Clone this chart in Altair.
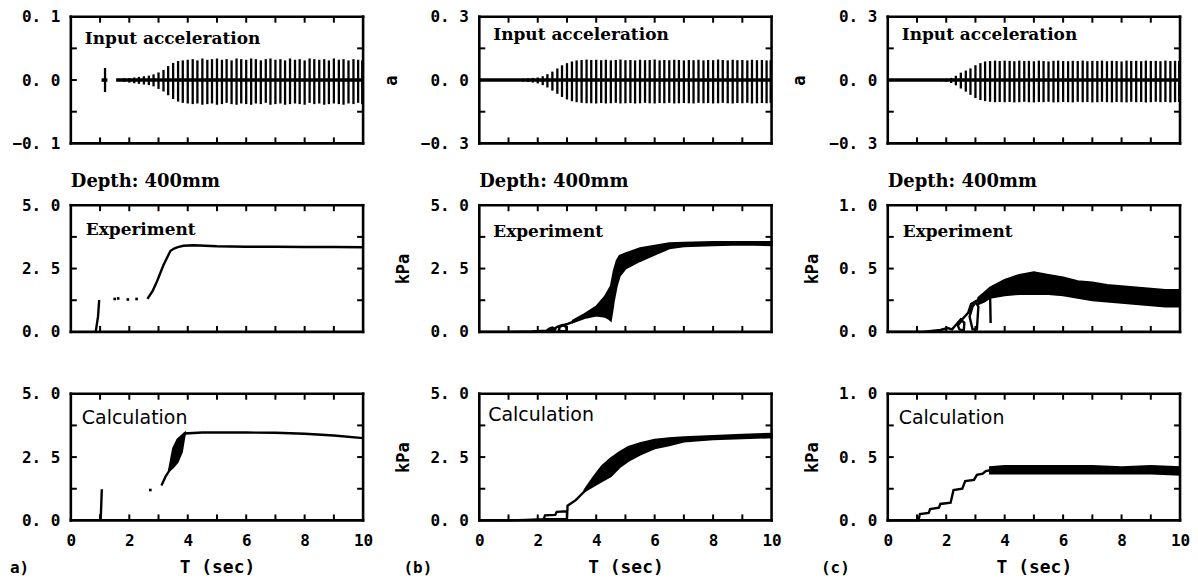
import altair as alt
import pandas as pd

W, H = 293, 127
MONO = "DejaVu Sans Mono"
SERIF = "DejaVu Serif"
SANS = "DejaVu Sans"

T_LABELS = [0, 2, 4, 6, 8, 10]
X_TICKS = [1, 2, 3, 4, 5, 6, 7, 8, 9]

# ---------------- input acceleration (spike peaks per cycle) ----------------
spike_t = [1.0, 1.17, 1.33, 1.5, 1.67, 1.83, 2.0, 2.17, 2.33, 2.5, 2.67, 2.83,
           3.0, 3.17, 3.33, 3.5, 3.67, 3.83, 4.0, 4.17, 4.33, 4.5, 4.67, 4.83,
           5.0, 5.17, 5.33, 5.5, 5.67, 5.83, 6.0, 6.17, 6.33, 6.5, 6.67, 6.83,
           7.0, 7.17, 7.33, 7.5, 7.67, 7.83, 8.0, 8.17, 8.33, 8.5, 8.67, 8.83,
           9.0, 9.17, 9.33, 9.5, 9.67, 9.83, 9.97]

acc_a_hi = [0.0, 0.019, 0.0, 0.0, 0.002, 0.003, 0.003, 0.004, 0.005, 0.006, 0.007, 0.009, 0.012, 0.016, 0.022, 0.027, 0.030, 0.031, 0.032,
            0.033, 0.031, 0.034, 0.032, 0.033, 0.034, 0.032, 0.033, 0.031, 0.034, 0.033, 0.032, 0.034, 0.033, 0.031, 0.033, 0.034, 0.032,
            0.033, 0.031, 0.034, 0.032, 0.033, 0.031, 0.034, 0.033, 0.032, 0.033, 0.031, 0.034, 0.032, 0.033, 0.031, 0.033, 0.032, 0.031]
acc_a_lo = [0.0, -0.019, 0.0, 0.0, -0.002, -0.003, -0.004, -0.005, -0.006, -0.007, -0.008, -0.010, -0.014, -0.018, -0.024, -0.030, -0.034, -0.036, -0.037,
            -0.038, -0.037, -0.039, -0.038, -0.037, -0.039, -0.038, -0.036, -0.038, -0.039, -0.037, -0.038, -0.039, -0.037, -0.038, -0.036, -0.039, -0.038,
            -0.037, -0.039, -0.038, -0.037, -0.038, -0.039, -0.036, -0.038, -0.037, -0.039, -0.038, -0.037, -0.038, -0.039, -0.037, -0.038, -0.036, -0.038]
acc_b_hi = [0.003, 0.004, 0.005, 0.006, 0.008, 0.010, 0.012, 0.018, 0.028, 0.040, 0.055, 0.070, 0.080, 0.088, 0.093, 0.095, 0.097, 0.095, 0.096,
            0.094, 0.096, 0.093, 0.095, 0.097, 0.094, 0.095, 0.093, 0.096, 0.094, 0.095, 0.097, 0.093, 0.095, 0.094, 0.096, 0.095, 0.093,
            0.095, 0.094, 0.096, 0.093, 0.095, 0.094, 0.097, 0.095, 0.093, 0.096, 0.094, 0.095, 0.093, 0.096, 0.094, 0.095, 0.093, 0.094]
acc_b_lo = [-0.003, -0.004, -0.005, -0.007, -0.009, -0.012, -0.016, -0.024, -0.035, -0.050, -0.065, -0.080, -0.092, -0.100, -0.105, -0.108, -0.110, -0.110, -0.111,
            -0.109, -0.111, -0.110, -0.108, -0.111, -0.110, -0.109, -0.111, -0.110, -0.108, -0.110, -0.111, -0.109, -0.110, -0.108, -0.111, -0.110, -0.109,
            -0.110, -0.111, -0.108, -0.110, -0.109, -0.111, -0.110, -0.108, -0.110, -0.111, -0.109, -0.110, -0.108, -0.111, -0.110, -0.109, -0.110, -0.108]
acc_c_hi = [0.001, 0.001, 0.002, 0.002, 0.003, 0.004, 0.006, 0.010, 0.020, 0.035, 0.045, 0.055, 0.070, 0.080, 0.088, 0.090, 0.092, 0.090, 0.092,
            0.091, 0.089, 0.092, 0.090, 0.091, 0.089, 0.092, 0.090, 0.088, 0.091, 0.092, 0.090, 0.089, 0.091, 0.090, 0.092, 0.089, 0.091,
            0.090, 0.092, 0.089, 0.091, 0.090, 0.088, 0.092, 0.090, 0.091, 0.089, 0.092, 0.090, 0.091, 0.089, 0.092, 0.090, 0.091, 0.090]
acc_c_lo = [-0.001, -0.001, -0.002, -0.003, -0.004, -0.006, -0.008, -0.014, -0.025, -0.040, -0.055, -0.070, -0.085, -0.095, -0.100, -0.103, -0.105, -0.104, -0.105,
            -0.104, -0.106, -0.105, -0.103, -0.105, -0.106, -0.104, -0.105, -0.103, -0.106, -0.105, -0.104, -0.105, -0.106, -0.103, -0.105, -0.104, -0.106,
            -0.105, -0.103, -0.105, -0.106, -0.104, -0.105, -0.106, -0.103, -0.105, -0.104, -0.106, -0.105, -0.103, -0.105, -0.104, -0.106, -0.105, -0.104]

# centre line segments of the acceleration traces (start, end)
acc_a_c0, acc_a_c1 = [1.05, 1.55], [1.25, 10.0]
acc_b_c0, acc_b_c1 = [0.0], [10.0]
acc_c_c0, acc_c_c1 = [0.0], [10.0]

# ---------------- pore pressure, (a) ----------------
a_exp_t = [0.85, 0.93, 0.97, 2.62, 2.8, 2.95, 3.17, 3.3, 3.41, 3.55, 3.66, 3.85, 4.2, 5.0, 6.0, 7.0, 8.0, 9.0, 10.0]
a_exp_v = [0.0, 0.6, 1.26, 1.3, 1.62, 2.0, 2.64, 2.95, 3.2, 3.3, 3.35, 3.4, 3.42, 3.38, 3.36, 3.36, 3.35, 3.35, 3.34]
a_exp_seg = [0, 0, 0, 1, 1, 1, 1, 1, 1, 1, 1, 1, 1, 1, 1, 1, 1, 1, 1]
a_exp_dot_t = [1.5, 1.62, 1.95, 2.25]
a_exp_dot_v = [1.3, 1.32, 1.28, 1.3]

a_cal_t = [1.02, 1.04, 1.06, 3.1, 3.25, 3.36, 3.9, 4.5, 5.0, 6.0, 7.0, 8.0, 9.0, 10.0]
a_cal_v = [0.0, 0.6, 1.23, 1.38, 1.75, 1.95, 3.43, 3.47, 3.47, 3.47, 3.46, 3.42, 3.35, 3.25]
a_cal_seg = [0, 0, 0, 1, 1, 1, 1, 1, 1, 1, 1, 1, 1, 1]
a_cal_band_t = [3.36, 3.5, 3.65, 3.8, 3.9]
a_cal_band_lo = [1.95, 2.1, 2.3, 2.7, 3.4]
a_cal_band_hi = [2.0, 2.85, 3.2, 3.35, 3.45]
a_cal_dot_t = [2.72]
a_cal_dot_v = [1.2]

# ---------------- pore pressure, (b) ----------------
b_exp_t = [0, 1.0, 1.8, 2.3, 2.4, 2.5, 2.6, 2.58, 2.45, 2.38, 2.6, 2.7, 2.85, 2.98, 2.98, 2.85, 2.72, 2.75, 2.9, 3.05, 3.2]
b_exp_v = [0, 0, 0.02, 0.05, 0.13, 0.17, 0.12, 0.03, 0.02, 0.06, 0.15, 0.22, 0.27, 0.2, 0.04, 0.02, 0.05, 0.2, 0.28, 0.33, 0.4]
b_exp_band_t = [3.2, 3.6, 4.0, 4.3, 4.45, 4.5, 4.55, 4.6, 4.7, 4.8, 5.0, 5.5, 6.0, 6.5, 7.0, 8.0, 9.0, 10.0]
b_exp_band_hi = [0.45, 0.7, 1.0, 1.4, 1.7, 1.8, 2.1, 2.4, 2.8, 3.0, 3.1, 3.3, 3.4, 3.5, 3.52, 3.55, 3.55, 3.55]
b_exp_band_lo = [0.38, 0.55, 0.65, 0.6, 0.5, 0.45, 0.8, 1.2, 1.8, 2.2, 2.5, 2.8, 3.05, 3.3, 3.38, 3.42, 3.45, 3.42]

b_cal_t = [0, 1.0, 1.6, 2.2, 2.25, 2.6, 2.65, 3.0, 3.0, 2.25, 3.0, 3.02, 3.3, 3.6, 3.75]
b_cal_v = [0, 0, 0.02, 0.05, 0.2, 0.22, 0.34, 0.36, 0.05, 0.05, 0.05, 0.58, 0.8, 1.15, 1.4]
b_cal_band_t = [3.6, 3.9, 4.2, 4.5, 4.8, 5.1, 5.5, 6.0, 6.5, 7.0, 8.0, 9.0, 10.0]
b_cal_band_hi = [1.2, 1.7, 2.15, 2.45, 2.7, 2.9, 3.05, 3.18, 3.24, 3.28, 3.33, 3.38, 3.42]
b_cal_band_lo = [1.15, 1.35, 1.55, 1.75, 2.1, 2.35, 2.6, 2.85, 2.97, 3.11, 3.2, 3.24, 3.28]

# ---------------- pore pressure, (c) ----------------
c_exp_t = [0, 1.2, 1.8, 2.05, 2.2, 2.35, 2.5, 2.62, 2.6, 2.45, 2.4, 2.55, 2.75, 2.85, 3.0, 3.1, 3.05, 2.9, 2.8, 2.9, 3.1, 3.2, 3.5, 3.52]
c_exp_v = [0, 0, 0.015, 0.03, 0.02, 0.06, 0.1, 0.07, 0.01, 0.02, 0.05, 0.1, 0.15, 0.22, 0.24, 0.2, 0.02, 0.02, 0.12, 0.2, 0.26, 0.28, 0.3, 0.07]
c_exp_seg = [0] * 22 + [1, 1]
c_exp_band_t = [3.1, 3.3, 3.5, 4.0, 4.5, 5.0, 5.5, 6.0, 6.5, 7.0, 7.5, 8.0, 8.5, 9.0, 9.5, 10.0]
c_exp_band_hi = [0.27, 0.31, 0.35, 0.41, 0.45, 0.47, 0.45, 0.43, 0.4, 0.39, 0.37, 0.36, 0.35, 0.34, 0.33, 0.33]
c_exp_band_lo = [0.22, 0.24, 0.27, 0.29, 0.3, 0.3, 0.3, 0.29, 0.27, 0.25, 0.24, 0.23, 0.22, 0.21, 0.2, 0.2]

c_cal_t = [0, 1.05, 1.1, 1.4, 1.45, 1.75, 1.8, 2.15, 2.25, 2.55, 2.65, 2.95, 3.05, 3.25, 3.35, 3.6]
c_cal_v = [0, 0, 0.05, 0.06, 0.09, 0.1, 0.13, 0.14, 0.24, 0.25, 0.31, 0.32, 0.36, 0.37, 0.39, 0.4]
c_cal_band_t = [3.5, 4.0, 5.0, 6.0, 7.0, 8.0, 9.0, 10.0]
c_cal_band_hi = [0.42, 0.43, 0.43, 0.43, 0.43, 0.42, 0.43, 0.42]
c_cal_band_lo = [0.37, 0.37, 0.37, 0.37, 0.37, 0.37, 0.37, 0.36]

# axis domains, label values and inner tick positions
ACC_A = dict(dom=[-0.1, 0.1], labels=[-0.1, 0.0, 0.1], ticks=[-0.05, 0.0, 0.05])
ACC_BC = dict(dom=[-0.3, 0.3], labels=[-0.3, 0.0, 0.3], ticks=[-0.15, 0.0, 0.15])
KPA5 = dict(dom=[0.0, 5.0], labels=[0.0, 2.5, 5.0], ticks=[1.25, 2.5, 3.75])
KPA1 = dict(dom=[0.0, 1.0], labels=[0.0, 0.5, 1.0], ticks=[0.25, 0.5, 0.75])


def make_x(field, bottom):
    scale = alt.Scale(domain=[0, 10], nice=False, zero=False)
    if bottom:
        axis = alt.Axis(values=T_LABELS, format="d", labelFont=MONO, labelFontWeight="bold",
                        labelFontSize=16, labelColor="black", labelPadding=12, labelFlush=False,
                        ticks=False, domain=False, grid=False, title="T (sec)", titleFont=MONO,
                        titleFontWeight="bold", titleFontSize=18, titleColor="black", titlePadding=10)
    else:
        axis = None
    return alt.X(field, type="quantitative", scale=scale, axis=axis)


def make_y(field, spec, title, tpad):
    scale = alt.Scale(domain=spec["dom"], nice=False, zero=False)
    axis = alt.Axis(values=spec["labels"], labelExpr="replace(format(datum.value, '.1f'), '.', '. ')",
                    labelFont=MONO, labelFontWeight="bold", labelFontSize=16, labelColor="black",
                    labelPadding=11, labelFlush=False, labelOverlap=False, ticks=False, domain=False,
                    grid=False, title=title, titleFont=MONO, titleFontWeight="bold", titleFontSize=17,
                    titleColor="black", titlePadding=tpad)
    return alt.Y(field, type="quantitative", scale=scale, axis=axis)


def text_layer(label, x, y, font, size, weight="bold", align="left"):
    return alt.Chart(pd.DataFrame({"s": [label]})).mark_text(
        align=align, baseline="middle", font=font, fontSize=size, fontWeight=weight, color="black"
    ).encode(x=alt.value(x), y=alt.value(y), text="s:N")


def frame_ticks(spec, bottom, title, tpad):
    X = lambda f: make_x(f, bottom)
    Y = lambda f: make_y(f, spec, title, tpad)
    xt = pd.DataFrame({"t": X_TICKS})
    yt = pd.DataFrame({"v": spec["ticks"]})
    one = pd.DataFrame({"k": [0]})
    rule = dict(color="black", strokeWidth=2)
    box = dict(color="black", strokeWidth=2.6, strokeCap="square")
    return [
        alt.Chart(xt).mark_rule(**rule).encode(x=X("t"), y=alt.value(0), y2=alt.value(6)),
        alt.Chart(xt).mark_rule(**rule).encode(x=X("t"), y=alt.value(H), y2=alt.value(H - 6)),
        alt.Chart(yt).mark_rule(**rule).encode(y=Y("v"), x=alt.value(0), x2=alt.value(6)),
        alt.Chart(yt).mark_rule(**rule).encode(y=Y("v"), x=alt.value(W), x2=alt.value(W - 6)),
        # plot frame
        alt.Chart(one).mark_rule(**box).encode(x=alt.value(0), x2=alt.value(W), y=alt.value(0)),
        alt.Chart(one).mark_rule(**box).encode(x=alt.value(0), x2=alt.value(W), y=alt.value(H)),
        alt.Chart(one).mark_rule(**box).encode(y=alt.value(0), y2=alt.value(H), x=alt.value(0)),
        alt.Chart(one).mark_rule(**box).encode(y=alt.value(0), y2=alt.value(H), x=alt.value(W)),
    ]


def acc_panel(hi, lo, c0, c1, spec, title, text_y):
    X = lambda f: make_x(f, False)
    Y = lambda f: make_y(f, spec, title, 20)
    spikes = pd.DataFrame({"t": spike_t, "v": lo, "v2": hi})
    centre = pd.DataFrame({"t": c0, "t2": c1, "v": [0.0] * len(c0)})
    layers = [
        alt.Chart(centre).mark_rule(color="black", strokeWidth=3.5).encode(x=X("t"), x2="t2", y=Y("v")),
        alt.Chart(spikes).mark_rule(color="black", strokeWidth=2.3).encode(x=X("t"), y=Y("v"), y2="v2"),
    ]
    layers += frame_ticks(spec, False, title, 20)
    layers.append(text_layer("Input acceleration", 14, text_y, SERIF, 17))
    return alt.layer(*layers).properties(width=W, height=H)


def kpa_panel(path_t, path_v, path_seg, band, dots, spec, title, label, label_font,
              label_xy, bottom, depth, letter):
    X = lambda f: make_x(f, bottom)
    Y = lambda f: make_y(f, spec, title, 17)
    path = pd.DataFrame({"t": path_t, "v": path_v, "seg": path_seg, "i": list(range(len(path_t)))})
    layers = [
        alt.Chart(path).mark_line(color="black", strokeWidth=2.4).encode(
            x=X("t"), y=Y("v"), detail="seg:N", order="i:Q")
    ]
    if band is not None:
        bdf = pd.DataFrame({"t": band[0], "v": band[1], "v2": band[2]})
        layers.append(alt.Chart(bdf).mark_area(color="black", stroke="black", strokeWidth=2).encode(
            x=X("t"), y=Y("v"), y2="v2"))
    if dots is not None:
        ddf = pd.DataFrame({"t": dots[0], "v": dots[1]})
        layers.append(alt.Chart(ddf).mark_point(shape="square", size=7, filled=True, color="black",
                                                opacity=1).encode(x=X("t"), y=Y("v")))
    layers += frame_ticks(spec, bottom, title, 17)
    font, size, weight = label_font
    layers.append(text_layer(label, label_xy[0], label_xy[1], font, size, weight))
    if depth:
        layers.append(text_layer("Depth: 400mm", 0, -23, SERIF, 18))
    if letter is not None:
        layers.append(text_layer(letter[0], letter[1], H + 48, MONO, 16))
    return alt.layer(*layers).properties(width=W, height=H)


EXP_FONT = (SERIF, 17, "bold")
CAL_FONT = (SANS, 19, "normal")

panels = [
    acc_panel(acc_a_hi, acc_a_lo, acc_a_c0, acc_a_c1, ACC_A, "", 22),
    acc_panel(acc_b_hi, acc_b_lo, acc_b_c0, acc_b_c1, ACC_BC, "a", 18),
    acc_panel(acc_c_hi, acc_c_lo, acc_c_c0, acc_c_c1, ACC_BC, "a", 18),

    kpa_panel(a_exp_t, a_exp_v, a_exp_seg, None, (a_exp_dot_t, a_exp_dot_v), KPA5, "",
              "Experiment", EXP_FONT, (15, 25), False, True, None),
    kpa_panel(b_exp_t, b_exp_v, [0] * len(b_exp_t), (b_exp_band_t, b_exp_band_lo, b_exp_band_hi), None,
              KPA5, "kPa", "Experiment", EXP_FONT, (14, 27), False, True, None),
    kpa_panel(c_exp_t, c_exp_v, c_exp_seg, (c_exp_band_t, c_exp_band_lo, c_exp_band_hi), None,
              KPA1, "kPa", "Experiment", EXP_FONT, (15, 27), False, True, None),

    kpa_panel(a_cal_t, a_cal_v, a_cal_seg, (a_cal_band_t, a_cal_band_lo, a_cal_band_hi),
              (a_cal_dot_t, a_cal_dot_v), KPA5, "", "Calculation", CAL_FONT, (11, 24), True, False,
              ("a)", -61)),
    kpa_panel(b_cal_t, b_cal_v, [0] * len(b_cal_t), (b_cal_band_t, b_cal_band_lo, b_cal_band_hi), None,
              KPA5, "kPa", "Calculation", CAL_FONT, (9, 21), True, False, ("(b)", -76)),
    kpa_panel(c_cal_t, c_cal_v, [0] * len(c_cal_t), (c_cal_band_t, c_cal_band_lo, c_cal_band_hi), None,
              KPA1, "kPa", "Calculation", CAL_FONT, (11, 24), True, False, ("(c)", -67)),
]

chart = alt.concat(
    *panels, columns=3, spacing={"row": 62, "column": 116.5}, bounds="flush"
).properties(
    padding={"left": 2, "top": 0, "right": 0, "bottom": 0}
).configure(
    background="white",
    view=alt.ViewConfig(stroke=None),
)

chart.save("out.html", embed_options={"renderer": "svg", "actions": False})
